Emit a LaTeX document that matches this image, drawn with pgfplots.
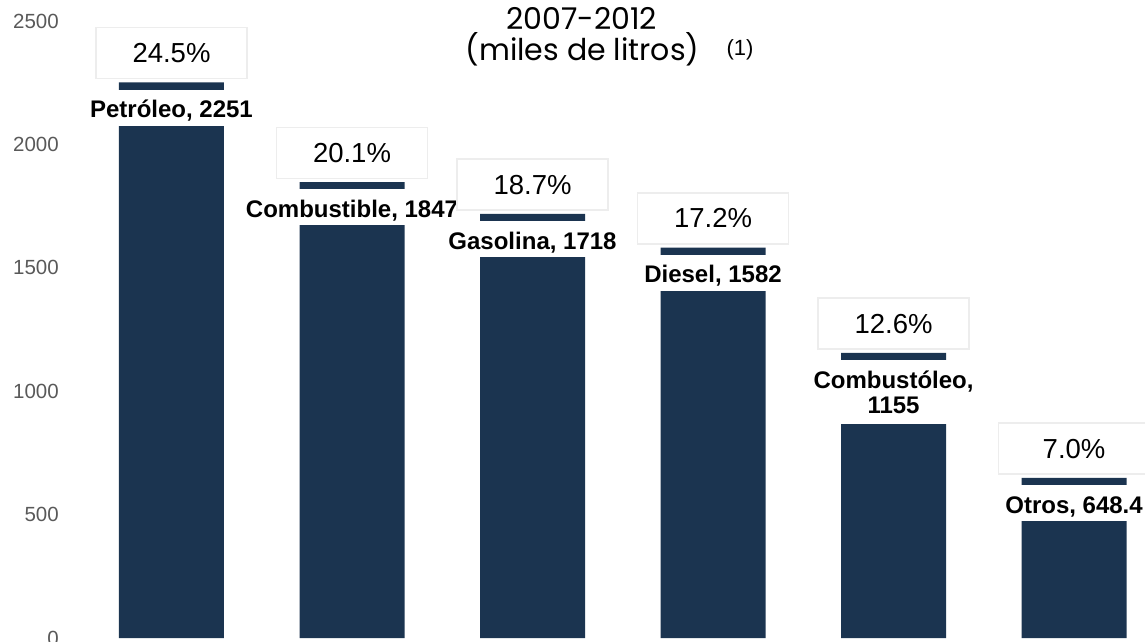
\documentclass[border=0pt]{standalone}
\usepackage{pgfplots}
\pgfplotsset{compat=1.18}
\usepackage{fontspec}
\setmainfont{Liberation Sans}
\newfontfamily\titlefont{Poppins}
\definecolor{barblue}{HTML}{1B3450}
\definecolor{boxgray}{HTML}{EDEDED}
\definecolor{tickgray}{HTML}{595959}
\newcommand\lstrut{\rule[-4pt]{0pt}{28pt}}
\newcommand\dstrut{\rule[-7pt]{0pt}{7pt}}
\begin{document}
\begin{tikzpicture}
\useasboundingbox (0,0) rectangle (1145pt,642pt);
\clip (0,0) rectangle (1145pt,642pt);
\begin{axis}[
  at={(0pt,0pt)}, anchor=south west,
  scale only axis, width=1145pt, height=642pt,
  xmin=-0.950, xmax=5.393, ymin=-16.2, ymax=2585.1,
  axis line style={draw=none},
  xtick=\empty,
  ytick={0,500,1000,1500,2000,2500},
  major tick length=0pt,
  yticklabel style={font=\fontsize{20.5}{24}\selectfont, text=tickgray, anchor=east, inner xsep=0pt, xshift=59pt},
  /pgf/number format/assume math mode=true,
  /pgf/number format/1000 sep={},
  clip=false,
]
\addplot[ybar, bar width=105pt, bar shift=0pt, fill=barblue, draw=none,
  point meta=explicit symbolic,
  nodes near coords={\lstrut\pgfplotspointmeta},
  every node near coord/.append style={anchor=north, yshift=-7pt, fill=white, inner xsep=2pt, inner ysep=4pt, font=\bfseries\fontsize{24}{25}\selectfont, text=black, align=center},
] coordinates {
  (0,2251) [Petróleo, 2251]
  (1,1847) [Combustible, 1847]
  (2,1718) [Gasolina, 1718]
  (3,1582) [Diesel, 1582]
  (4,1155) [Combustóleo,\\1155\dstrut]
  (5,648.4) [Otros, 648.4]
};
\addplot[draw=none, mark=none,
  point meta=explicit symbolic,
  nodes near coords,
  every node near coord/.append style={anchor=south, yshift=3pt, fill=white, draw=boxgray, line width=1.5pt, minimum width=151pt, minimum height=51pt, inner sep=0pt, font=\fontsize{27.5}{30}\selectfont, text=black},
] coordinates {
  (0,2251) [24.5\%]
  (1,1847) [20.1\%]
  (2,1718) [18.7\%]
  (3,1582) [17.2\%]
  (4,1155) [12.6\%]
  (5,648.4) [7.0\%]
};
\node[font=\titlefont\fontsize{30}{30}\selectfont, anchor=base] at (axis description cs:0.508,0.9533) {2007-2012};
\node[font=\titlefont\fontsize{30}{30}\selectfont, anchor=base] at (axis description cs:0.5087,0.9065) {(miles de litros)};
\node[font=\fontsize{22}{22}\selectfont, anchor=base] at (axis description cs:0.6463,0.9128) {(1)};
\end{axis}
\end{tikzpicture}
\end{document}
